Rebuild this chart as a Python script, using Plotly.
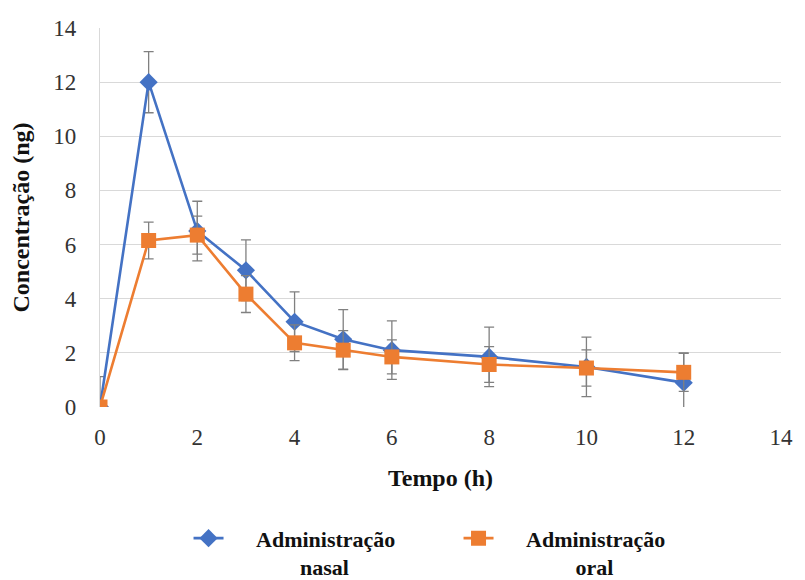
import plotly.graph_objects as go

tempo = [0, 1, 2, 3, 4, 5, 6, 8, 10, 12]
nasal = [0, 12.0, 6.5, 5.05, 3.15, 2.5, 2.1, 1.85, 1.48, 0.9]
nasal_err = [1.12, 1.13, 1.1, 1.12, 1.1, 1.1, 1.08, 1.1, 1.1, 1.1]
oral = [0, 6.15, 6.35, 4.17, 2.37, 2.1, 1.85, 1.57, 1.44, 1.28]
oral_err = [0, 0.68, 0.7, 0.68, 0.66, 0.72, 0.63, 0.66, 0.67, 0.7]
x_ticks = [0, 2, 4, 6, 8, 10, 12, 14]
y_ticks = [0, 2, 4, 6, 8, 10, 12, 14]

font_family = "Liberation Serif"
err_color = "#808080"
nb = "\u00a0"

fig = go.Figure()
fig.add_trace(go.Scatter(
    x=tempo, y=nasal, mode="lines+markers",
    name=nb * 5 + "Administração<br>" + nb * 13 + "nasal",
    line=dict(color="#4472C4", width=2.6),
    marker=dict(symbol="diamond", size=14, color="#4472C4"),
    error_y=dict(type="data", array=nasal_err, visible=True, color=err_color, thickness=1.3, width=5),
))
fig.add_trace(go.Scatter(
    x=tempo, y=oral, mode="lines+markers",
    name=nb * 5 + "Administração<br>" + nb * 14 + "oral",
    line=dict(color="#ED7D31", width=2.6),
    marker=dict(symbol="square", size=15, color="#ED7D31"),
    error_y=dict(type="data", array=oral_err, visible=True, color=err_color, thickness=1.3, width=5),
))

fig.update_layout(
    width=805, height=580,
    margin=dict(l=100, r=17, t=28, b=173),
    plot_bgcolor="white", paper_bgcolor="white",
    font=dict(family=font_family, color="#222222"),
    showlegend=True,
    legend=dict(
        orientation="h", x=0.13, xanchor="left",
        yref="container", y=0.108, yanchor="top",
        valign="top",
        font=dict(family=font_family, size=22, color="#111111", weight="bold"),
        traceorder="normal",
        entrywidth=225, entrywidthmode="pixels",
        bgcolor="rgba(0,0,0,0)",
    ),
    xaxis=dict(
        title=dict(text="<b>Tempo (h)</b>", font=dict(size=24, family=font_family, color="#111111"), standoff=20),
        range=[0, 14], tickvals=x_ticks, ticktext=[str(v) for v in x_ticks],
        showgrid=False, zeroline=False, showline=False, ticks="",
        ticklabelstandoff=14,
        tickfont=dict(size=23, family=font_family, color="#333333"),
    ),
    yaxis=dict(
        title=dict(text="<b>Concentração (ng)</b>", font=dict(size=24, family=font_family, color="#111111"), standoff=16),
        range=[0, 14], tickvals=y_ticks, ticktext=[str(v) for v in y_ticks],
        showgrid=True, gridcolor="#D9D9D9", gridwidth=1.3,
        zeroline=False, showline=True, linecolor="#D9D9D9", linewidth=1.3, ticks="",
        ticklabelstandoff=18,
        tickfont=dict(size=23, family=font_family, color="#333333"),
    ),
)

fig.write_html("out.html")
